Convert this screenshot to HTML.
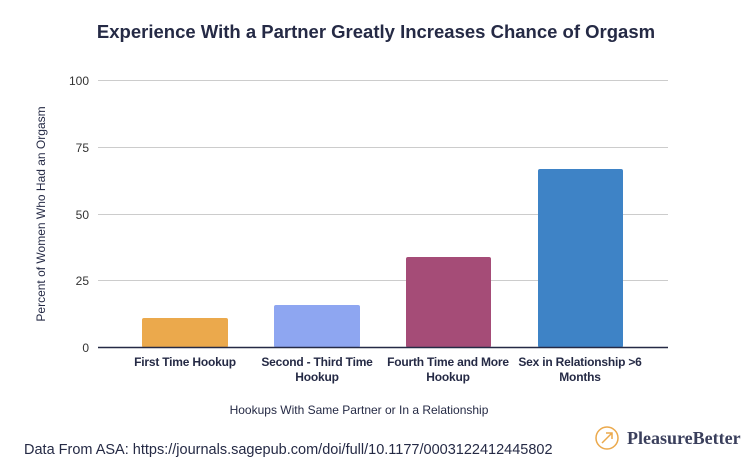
<!DOCTYPE html>
<html><head><style>
body{margin:0;background:#fff;}
</style></head><body>
<svg width="752" height="461" xmlns="http://www.w3.org/2000/svg" font-family="Liberation Sans, sans-serif">
<rect width="752" height="461" fill="#fff"/>
<text x="376" y="38" text-anchor="middle" font-size="18.5" font-weight="bold" fill="#252a45">Experience With a Partner Greatly Increases Chance of Orgasm</text>
<g stroke="#cccccc" stroke-width="1">
<line x1="98" x2="668" y1="80.5" y2="80.5"/>
<line x1="98" x2="668" y1="147.5" y2="147.5"/>
<line x1="98" x2="668" y1="214.5" y2="214.5"/>
<line x1="98" x2="668" y1="280.5" y2="280.5"/>
</g>
<g font-size="12" fill="#333" text-anchor="end">
<text x="89" y="85">100</text>
<text x="89" y="152">75</text>
<text x="89" y="219">50</text>
<text x="89" y="285">25</text>
<text x="89" y="352">0</text>
</g>
<rect x="142" y="318" width="86" height="29.5" rx="2" fill="#eba94c"/>
<rect x="274" y="305" width="86" height="42.5" rx="2" fill="#8ea6f1"/>
<rect x="406" y="257" width="85" height="90.5" rx="2" fill="#a54c77"/>
<rect x="538" y="169" width="85" height="178.5" rx="2" fill="#3e83c6"/>
<line x1="98" x2="668" y1="347.5" y2="347.5" stroke="#252a45" stroke-width="1.5"/>
<g font-size="12" font-weight="bold" fill="#252a45" text-anchor="middle" letter-spacing="-0.2">
<text x="185" y="366">First Time Hookup</text>
<text x="317" y="366">Second - Third Time</text>
<text x="317" y="381">Hookup</text>
<text x="448" y="366">Fourth Time and More</text>
<text x="448" y="381">Hookup</text>
<text x="580" y="366">Sex in Relationship &gt;6</text>
<text x="580" y="381">Months</text>
</g>
<text x="359" y="414" text-anchor="middle" font-size="12" fill="#252a45">Hookups With Same Partner or In a Relationship</text>
<text transform="translate(45,214) rotate(-90)" text-anchor="middle" font-size="12" fill="#252a45">Percent of Women Who Had an Orgasm</text>
<text x="24" y="454" font-size="14.5" fill="#252a45">Data From ASA: https://journals.sagepub.com/doi/full/10.1177/0003122412445802</text>
<circle cx="607" cy="438" r="11" fill="none" stroke="#eba94c" stroke-width="1.5"/>
<path d="M602 443 L612 433 M606 433 H612 V439" stroke="#eba94c" stroke-width="1.5" fill="none"/>
<text x="627" y="444" font-family="Liberation Serif, serif" font-size="18" font-weight="bold" fill="#3a3f5c">PleasureBetter</text>
</svg>
</body></html>
